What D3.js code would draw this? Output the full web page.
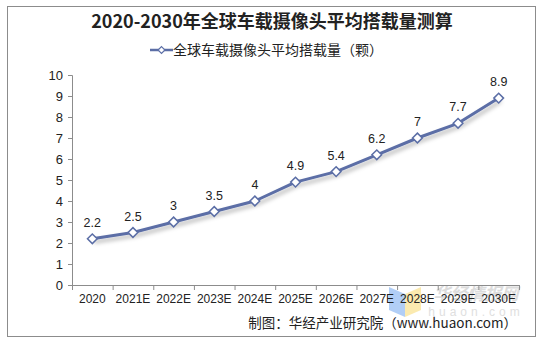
<!DOCTYPE html>
<html><head><meta charset="utf-8">
<script src="https://cdn.jsdelivr.net/npm/d3@7"></script>
<style>body{margin:0;background:#fff}svg{display:block}</style>
</head><body>
<script>
const categories = ["2020","2021E","2022E","2023E","2024E","2025E","2026E","2027E","2028E","2029E","2030E"];
const values = [2.2,2.5,3,3.5,4,4.9,5.4,6.2,7,7.7,8.9];
const yTicks = [0,1,2,3,4,5,6,7,8,9,10];
const title = "2020-2030年全球车载摄像头平均搭载量测算";
const seriesName = "全球车载摄像头平均搭载量（颗）";
const source = "制图：华经产业研究院（www.huaon.com）";

const W=545,H=342;
const svg=d3.select("body").append("svg").attr("width",W).attr("height",H);
const sans="Arial, 'Liberation Sans', 'Noto Sans CJK SC', sans-serif";
const cjk="'Noto Sans CJK SC', sans-serif";

svg.append("rect").attr("x",7.5).attr("y",6.5).attr("width",528).attr("height",330)
  .attr("fill","#fff").attr("stroke","#8c8c8c").attr("stroke-width",1);

// watermark
const wm=svg.append("g");
wm.append("path").attr("d","M389,287 L405,294 L405,317 L389,310 Z").attr("fill","#a9c9f5").attr("opacity",0.9);
wm.append("path").attr("d","M405,294 L421,287 L421,310 L405,317 Z").attr("fill","#fbe8a6").attr("opacity",0.9);
wm.append("text").attr("x",476).attr("y",300).attr("text-anchor","middle").attr("font-family",cjk)
  .attr("font-weight",700).attr("font-style","italic").attr("font-size",17).attr("fill","#dcdcdc").text("华经情报网");
wm.append("text").attr("x",476).attr("y",316).attr("text-anchor","middle").attr("font-family",sans)
  .attr("font-size",12).attr("letter-spacing",4).attr("fill","#e0e0e0").text("huaon.com");

const x=d3.scaleBand().domain(categories).range([72,519]);
const y=d3.scaleLinear().domain([0,10]).range([285,75]);

svg.append("text").attr("x",272).attr("y",28).attr("text-anchor","middle")
  .attr("font-family",cjk).attr("font-weight",700).attr("font-size",18).attr("fill","#222").text(title);

// legend
const lg=svg.append("g");
lg.append("line").attr("x1",150).attr("x2",173).attr("y1",50).attr("y2",50).attr("stroke","#5b6ea6").attr("stroke-width",2.5);
lg.append("path").attr("d",d3.symbol(d3.symbolDiamond2,30)()).attr("transform","translate(161.5,50)")
  .attr("fill","#fff").attr("stroke","#5b6ea6").attr("stroke-width",1.2);
lg.append("text").attr("x",173).attr("y",55).attr("font-family",cjk).attr("font-size",14).attr("fill","#222").text(seriesName);

// y axis
const ya=svg.append("g").attr("transform","translate(72,0)")
  .call(d3.axisLeft(y).tickValues(yTicks).tickSize(4).tickPadding(5).tickFormat(d3.format("d")));
ya.select(".domain").attr("stroke","#8c8c8c");
ya.selectAll(".tick line").attr("stroke","#8c8c8c");
ya.selectAll("text").attr("font-family",sans).attr("font-size",13).attr("fill","#222");

// x axis
const xa=svg.append("g").attr("transform","translate(0,285)")
  .call(d3.axisBottom(x).tickSize(0).tickPadding(9));
xa.select(".domain").attr("stroke","#8c8c8c");
xa.selectAll("text").attr("font-family",sans).attr("font-size",12).attr("fill","#222");
const bounds=categories.map(c=>x(c)).concat([x.range()[1]]);
svg.append("g").selectAll("line").data(bounds).join("line")
  .attr("x1",d=>d+0.5).attr("x2",d=>d+0.5).attr("y1",285).attr("y2",290).attr("stroke","#8c8c8c");

const cx=c=>x(c)+x.bandwidth()/2;
const line=d3.line().x((d,i)=>cx(categories[i])).y(d=>y(d));

const defs=svg.append("defs");
const f=defs.append("filter").attr("id","sh").attr("x","-10%").attr("y","-20%").attr("width","130%").attr("height","160%");
f.append("feDropShadow").attr("dx",2).attr("dy",3).attr("stdDeviation",2).attr("flood-color","#000").attr("flood-opacity",0.3);

svg.append("path").datum(values).attr("d",line).attr("fill","none").attr("stroke","#5b6ea6")
  .attr("stroke-width",3).attr("stroke-linejoin","round").attr("filter","url(#sh)");
svg.append("g").selectAll("path").data(values).join("path")
  .attr("d",d3.symbol(d3.symbolDiamond2,60)())
  .attr("transform",(d,i)=>`translate(${cx(categories[i])},${y(d)})`)
  .attr("fill","#fff").attr("stroke","#5b6ea6").attr("stroke-width",1.5);
svg.append("g").selectAll("text").data(values).join("text")
  .attr("x",(d,i)=>cx(categories[i])).attr("y",d=>y(d)-12).attr("text-anchor","middle")
  .attr("font-family",sans).attr("font-size",12.5).attr("fill","#222").text(d=>d);

svg.append("text").attr("x",517).attr("y",328).attr("text-anchor","end")
  .attr("font-family",cjk).attr("font-size",13.5).attr("fill","#222").text(source);
</script>
</body></html>
